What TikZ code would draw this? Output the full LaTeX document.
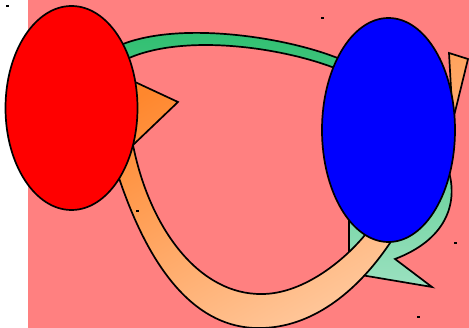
\documentclass[tikz,border=0pt]{standalone}
\usetikzlibrary{shapes.geometric}
\definecolor{bgpink}{RGB}{255,128,128}
\definecolor{gdark}{RGB}{44,190,110}
\definecolor{glight}{RGB}{155,225,192}
\definecolor{odark}{RGB}{255,135,45}
\definecolor{olight}{RGB}{255,205,165}
\tikzset{
  outl/.style={draw=black, line width=1.7pt, line join=miter},
  blob/.style={outl},
  speck/.style={fill=black}
}
\begin{document}
\begin{tikzpicture}[x=1pt,y=-1pt]
\useasboundingbox (0,0) rectangle (469,328);
\fill[white] (0,0) rectangle (469,328);
\fill[bgpink] (28,0) rectangle (469,328);
% green arrow
\shadedraw[outl, top color=gdark, bottom color=glight]
  (123,44) .. controls (180,22) and (280,36) .. (335,57)
  -- (400,80) -- (440,150) -- (449,172)
  .. controls (458,205) and (445,240) .. (395,259)
  -- (432,287) -- (349,273) -- (349,190) -- (380,225) -- (420,190)
  -- (430,140) -- (390,80) -- (332,67)
  .. controls (278,47) and (185,34) .. (129,58)
  -- (110,55) -- (110,46) -- cycle;
% orange arrow
\shadedraw[outl, top color=odark, bottom color=olight, shading angle=30]
  (449,53) -- (468,59) -- (455,112) -- (440,160) -- (400,225) -- (390,243)
  .. controls (355,295) and (310,327) .. (262,328)
  .. controls (205,330) and (155,285) .. (119,178)
  -- (105,140) -- (98,65) -- (135,82) -- (178,102) -- (133,145)
  .. controls (150,230) and (200,295) .. (262,294)
  .. controls (300,294) and (340,265) .. (365,235)
  -- (400,190) -- (440,120) -- (452,106) -- cycle;
% ellipses
\node[blob, fill=red, ellipse, minimum width=132pt, minimum height=204pt, inner sep=0pt] (redE) at (71.5,108) {};
\node[blob, fill=blue, ellipse, minimum width=133pt, minimum height=224pt, inner sep=0pt] (blueE) at (388.5,130) {};
% specks
\fill[speck] (6,5) rectangle (8.5,7);
\fill[speck] (321,17) rectangle (323.5,19);
\fill[speck] (136,210) rectangle (138.5,212);
\fill[speck] (454,242) rectangle (456.5,244);
\fill[speck] (417,316) rectangle (419.5,318);
\end{tikzpicture}
\end{document}
